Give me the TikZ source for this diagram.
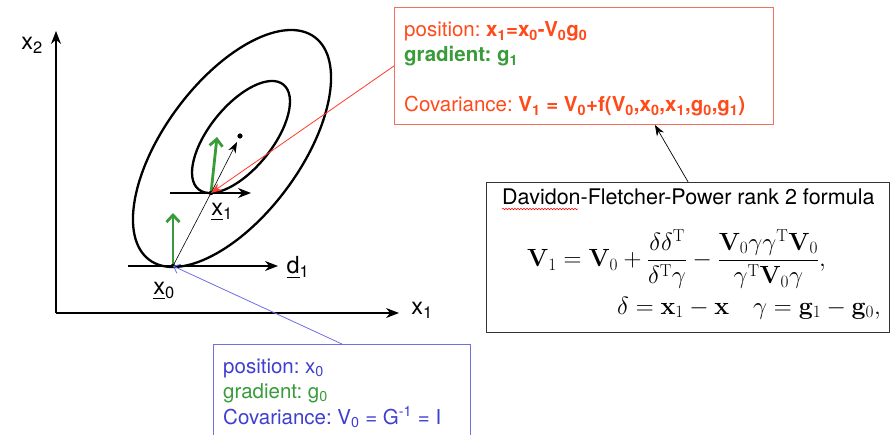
\documentclass[tikz,border=0pt]{standalone}
\usepackage[no-math]{fontspec}
\setmainfont{TeX Gyre Heros}
\usepackage{amsmath}
\usetikzlibrary{positioning, arrows.meta, decorations.pathmorphing}
\definecolor{posred}{HTML}{FF4A1A}
\definecolor{boxred}{HTML}{F07060}
\definecolor{linkred}{HTML}{FF3B2B}
\definecolor{gradgreen}{HTML}{3A9B3A}
\definecolor{covblue}{HTML}{3F3FD0}
\definecolor{boxblue}{HTML}{6E6EE6}

\begin{document}
\begin{tikzpicture}[x=1pt, y=-1pt,
    axis/.style={line width=1.3pt, -{Stealth[length=13pt, width=10pt]}},
    contour/.style={line width=2.3pt},
    grad/.style={gradgreen, line width=2.8pt, -{Straight Barb[length=7pt, width=13pt]}},
    lab/.style={inner sep=0pt, font=\fontsize{23.5}{28}\selectfont},
    frame/.style={anchor=north west, line width=0.9pt},
    info/.style={anchor=base west, inner sep=0pt, font=\fontsize{20.5}{25}\selectfont\frenchspacing}]
  \clip (0,0) rectangle (890,435);
  \fill[white] (0,0) rectangle (890,435);

  % axes
  \coordinate (O) at (56,313);
  \coordinate (ytop) at (56,31);
  \coordinate (xend) at (399,313);
  \draw[axis] (O) -- (ytop);
  \draw[axis] (O) -- (xend);
  \node[lab] (x2lab) at (32,45) {x\textsubscript{2}};
  \node[lab] (x1lab) at (422,310) {x\textsubscript{1}};

  % contours of the quadratic
  \coordinate (x0) at (173,266);
  \coordinate (x1) at (211,193);
  \coordinate (xmin) at (240,136);
  \draw[contour, rotate around={53.4:(232,148.5)}] (232,148.5) ellipse [x radius=138.7pt, y radius=67.9pt];
  \draw[contour, rotate around={51:(241,137)}] (241,137) ellipse [x radius=67.4pt, y radius=31.5pt];

  % search directions
  \coordinate (d0s) at (128,266);
  \coordinate (d0e) at (278,266);
  \coordinate (d1s) at (170,193);
  \coordinate (d1e) at (251,193);
  \draw[axis] (d0s) -- (d0e);
  \draw[axis] (d1s) -- (d1e);
  \node[lab] (dlab) at (298,268) {\underline{d}\textsubscript{1}};

  \draw[grad] (x0) -- (173,213);
  \draw[grad] (x1) -- (217,137);
  \draw[line width=0.6pt] (x0) -- (x1);
  \draw[line width=0.6pt, -{Stealth[length=11pt, width=8pt]}] (x1) -- (237,142);
  \fill (xmin) circle (2.6pt);
  \fill (x0) circle (2.2pt);
  \fill (x1) circle (2.2pt);
  \node[lab] (x0lab) at (164,291) {\underline{x}\textsubscript{0}};
  \node[lab] (x1ptlab) at (222,212) {\underline{x}\textsubscript{1}};

  % update box
  \node[frame, draw=boxred, minimum width=379pt, minimum height=117pt] (upd) at (394,7) {};
  \node[info, text=posred] (updpos) at (404,37)
    {position: \textbf{x\textsubscript{1}=x\textsubscript{0}-V\textsubscript{0}g\textsubscript{0}}};
  \node[info, text=gradgreen] (updgrad) at (404,62) {\textbf{gradient: g\textsubscript{1}}};
  \node[info, text=posred] (updcov) at (404,112)
    {Covariance: \textbf{V\textsubscript{1} = V\textsubscript{0}+f(V\textsubscript{0},x\textsubscript{0},x\textsubscript{1},g\textsubscript{0},g\textsubscript{1})}};
  \draw[linkred, line width=0.8pt, -{Stealth[length=11pt, width=8pt]}] (upd.west) -- (x1);

  % start box
  \node[frame, draw=boxblue, minimum width=257pt, minimum height=100pt] (start) at (213,344) {};
  \node[info, text=covblue] (startpos) at (223,373) {position: x\textsubscript{0}};
  \node[info, text=gradgreen] (startgrad) at (223,398) {gradient: g\textsubscript{0}};
  \node[info, text=covblue] (startcov) at (223,424) {Covariance: V\textsubscript{0} = G\textsuperscript{-1} = I};
  \draw[boxblue, line width=0.8pt, -{Straight Barb[length=6pt, width=10pt]}] (start.north) -- (x0);

  % DFP formula
  \node[frame, draw=black!80, line width=1.2pt, minimum width=403pt, minimum height=150pt] (dfp) at (486,182) {};
  \node[anchor=base west, inner sep=0pt, font=\fontsize{21.5}{26}\selectfont] (dfptitle) at (502,205) {Davidon-Fletcher-Power rank 2 formula};
  \draw[red, line width=0.5pt, decorate, decoration={snake, amplitude=0.8pt, segment length=3pt}]
    ([yshift=-4pt]dfptitle.base west) -- ++(76,0);
  \node[anchor=west, inner sep=0pt, font=\fontsize{24.5}{28}\selectfont] (dfpeq) at (527,259)
    {$\displaystyle \mathbf{V}_1=\mathbf{V}_0+\frac{\delta\delta^{\mathrm{T}}}{\delta^{\mathrm{T}}\gamma}-\frac{\mathbf{V}_0\gamma\gamma^{\mathrm{T}}\mathbf{V}_0}{\gamma^{\mathrm{T}}\mathbf{V}_0\gamma},$};
  \node[anchor=west, inner sep=0pt, font=\fontsize{24}{28}\selectfont] (dfpdef) at (617,308)
    {$\delta=\mathbf{x}_1-\mathbf{x}\quad\gamma=\mathbf{g}_1-\mathbf{g}_0,$};
  \draw[line width=0.7pt, -{Stealth[length=11pt, width=8pt]}] (dfp.north) -- ([xshift=-119pt]upd.south east);
\end{tikzpicture}
\end{document}
